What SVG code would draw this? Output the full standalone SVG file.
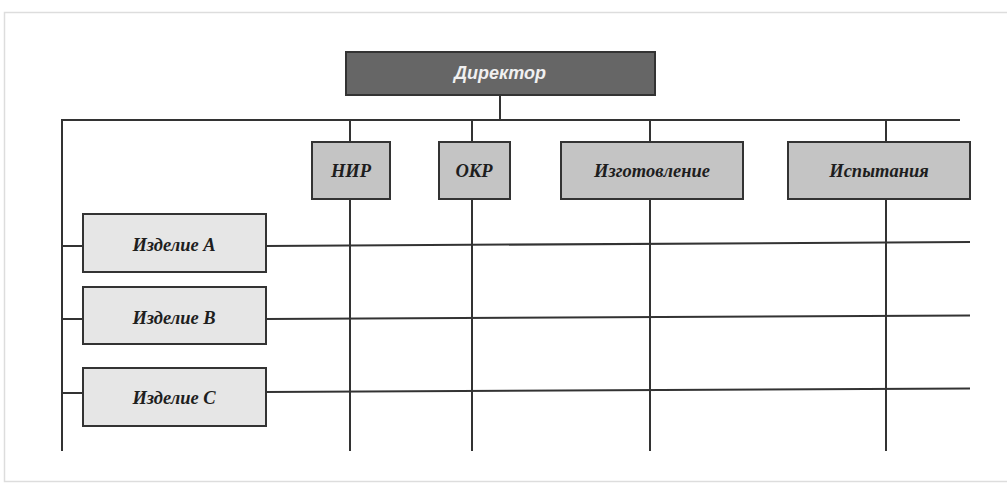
<svg xmlns="http://www.w3.org/2000/svg" width="1007" height="484" viewBox="0 0 1007 484">
  <style>
    .frame { fill: #ffffff; stroke: #dddddd; stroke-width: 1.5; }
    .line { stroke: #333333; stroke-width: 2; fill: none; }
    .head { fill: #666666; stroke: #333333; stroke-width: 2; }
    .dept { fill: #c4c4c4; stroke: #333333; stroke-width: 2; }
    .prod { fill: #e6e6e6; stroke: #333333; stroke-width: 2; }
    .head-text { font-family: "Liberation Sans", Arial, sans-serif; font-size: 18px; font-weight: bold; font-style: italic; fill: #f0f0f0; text-anchor: middle; }
    .label { font-family: "Liberation Serif", "Times New Roman", "DejaVu Serif", serif; font-size: 18.5px; font-weight: bold; font-style: italic; fill: #1e1e1e; text-anchor: middle; }
  </style>

  <rect class="frame" x="4.5" y="12.5" width="1010" height="469"/>

  <g id="connectors">
    <!-- director down to the top bus -->
    <line class="line" x1="500" y1="95" x2="500" y2="120"/>
    <!-- top bus -->
    <line class="line" x1="61" y1="120" x2="960" y2="120"/>
    <!-- left spine for products -->
    <line class="line" x1="62" y1="119" x2="62" y2="451"/>
    <!-- department columns -->
    <line class="line" x1="350" y1="119" x2="350" y2="451"/>
    <line class="line" x1="472" y1="119" x2="472" y2="451"/>
    <line class="line" x1="650" y1="119" x2="650" y2="451"/>
    <line class="line" x1="886" y1="119" x2="886" y2="451"/>
    <!-- product stubs -->
    <line class="line" x1="62" y1="246" x2="83" y2="246"/>
    <line class="line" x1="62" y1="319" x2="83" y2="319"/>
    <line class="line" x1="62" y1="393" x2="83" y2="393"/>
    <!-- product rows -->
    <line class="line" x1="266" y1="246" x2="970" y2="242"/>
    <line class="line" x1="266" y1="319" x2="970" y2="315.5"/>
    <line class="line" x1="266" y1="392" x2="970" y2="388.5"/>
  </g>

  <g id="director">
    <rect class="head" x="346" y="52" width="309" height="43"/>
    <text class="head-text" x="500" y="79">Директор</text>
  </g>

  <g id="nir">
    <rect class="dept" x="312" y="142" width="78" height="57"/>
    <text class="label" x="351" y="177">НИР</text>
  </g>
  <g id="okr">
    <rect class="dept" x="439" y="142" width="71" height="57"/>
    <text class="label" x="474" y="177">ОКР</text>
  </g>
  <g id="manufacturing">
    <rect class="dept" x="561" y="142" width="182" height="57"/>
    <text class="label" x="652" y="177">Изготовление</text>
  </g>
  <g id="testing">
    <rect class="dept" x="788" y="142" width="182" height="57"/>
    <text class="label" x="879" y="177">Испытания</text>
  </g>

  <g id="product-a">
    <rect class="prod" x="83" y="214" width="183" height="58"/>
    <text class="label" x="174" y="251">Изделие А</text>
  </g>
  <g id="product-b">
    <rect class="prod" x="83" y="287" width="183" height="57"/>
    <text class="label" x="174" y="324">Изделие В</text>
  </g>
  <g id="product-c">
    <rect class="prod" x="83" y="368" width="183" height="58"/>
    <text class="label" x="174" y="404">Изделие С</text>
  </g>
</svg>
